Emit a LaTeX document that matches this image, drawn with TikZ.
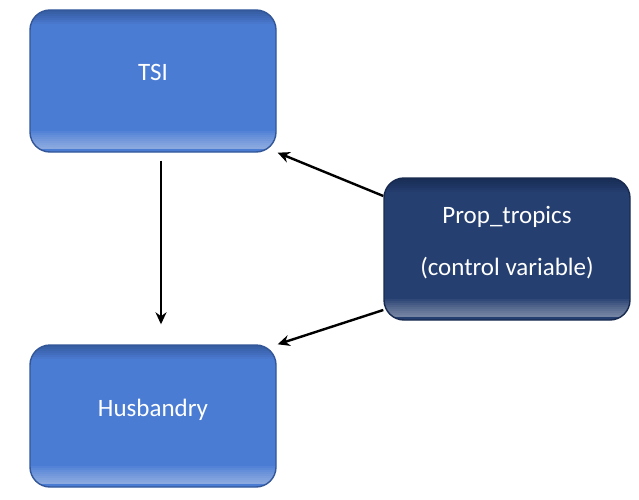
\documentclass[tikz,border=0pt]{standalone}
\usepackage{fontspec}
\setmainfont{Carlito}
\usetikzlibrary{arrows.meta,positioning,calc}
\definecolor{boxblue}{RGB}{75,124,212}
\definecolor{boxedge}{RGB}{50,86,152}
\definecolor{darkbox}{RGB}{37,63,112}
\definecolor{darkedge}{RGB}{24,42,80}

\begin{document}
\begin{tikzpicture}[x=1pt,y=1pt,
  box/.style={rounded corners=20pt,minimum width=246pt,minimum height=142pt,align=center,
    text=white,font=\fontsize{25}{30}\selectfont,line width=1.4pt,
    path picture={
      \foreach \k in {1,...,9}
        \fill[sharp corners,white,opacity=0.05]
          ([yshift=3pt]path picture bounding box.south west) rectangle ([yshift={3pt+2*\k pt}]path picture bounding box.south east);
      \foreach \k in {1,...,7}
        \fill[sharp corners,black,opacity=0.035]
          (path picture bounding box.north west) rectangle ([yshift={-2*\k pt}]path picture bounding box.north east);
    }},
  var/.style={box,draw=boxedge,fill=boxblue,text height=17pt,text depth=17pt},
  ctrl/.style={box,draw=darkedge,fill=darkbox},
  arr/.style={-{Stealth[length=12pt,width=11pt]},line width=2.4pt}
]
\useasboundingbox (0,0) rectangle (639,499);
% Boxes
\node[var]  (tsi)  at (153,418) {TSI};
\node[var]  (hus)  at (153,83)  {Husbandry};
\node[ctrl] (prop) at (507,250) {Prop\_tropics\\[22pt](control variable)\rule[-16pt]{0pt}{16pt}};

% Arrows
\draw[arr] ([xshift=8pt,yshift=-8pt]tsi.south) -- ([xshift=8pt,yshift=20pt]hus.north);
\draw[arr] ([yshift=53pt]prop.west) -- ([xshift=1pt]tsi.south east);
\draw[arr] ([yshift=-61pt]prop.west) -- ([xshift=1pt]hus.north east);
\end{tikzpicture}
\end{document}
